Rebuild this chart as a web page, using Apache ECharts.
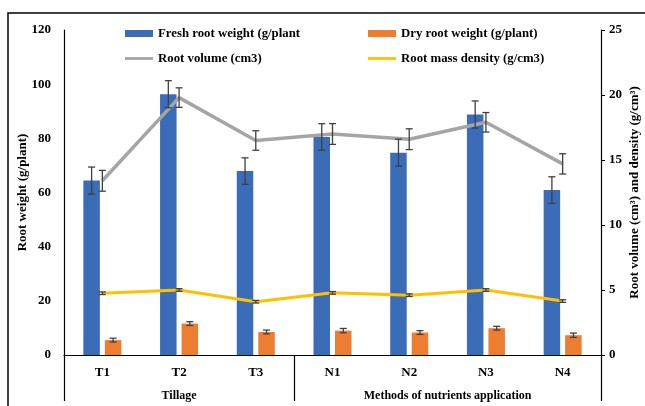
<!DOCTYPE html>
<html>
<head>
<meta charset="utf-8">
<script src="https://cdn.jsdelivr.net/npm/echarts@6/dist/echarts.min.js"></script>
<style>
html, body { margin: 0; padding: 0; background: #fff; }
#chart { width: 645px; height: 406px; }
</style>
</head>
<body>
<div id="chart"></div>
<script>
const categories = ['T1', 'T2', 'T3', 'N1', 'N2', 'N3', 'N4']
const groups = ['Tillage', 'Methods of nutrients application']
const groupBounds = [0, 3, 7]
const groupCenters = [1.5, 5]

const fresh = [64.4, 96.3, 67.9, 80.5, 74.7, 88.8, 60.9]
const freshErr = [5, 5, 4.9, 4.9, 5, 5, 4.9]
const dry = [5.5, 11.6, 8.5, 9.0, 8.3, 9.9, 7.3]
const dryErr = [0.7, 0.7, 0.7, 0.8, 0.7, 0.7, 0.8]
const volume = [13.4, 19.8, 16.5, 17.0, 16.6, 17.9, 14.7]
const volumeErr = [0.8, 0.75, 0.75, 0.8, 0.8, 0.75, 0.78]
const density = [4.75, 5.0, 4.1, 4.78, 4.6, 5.0, 4.15]
const densityErr = [0.1, 0.1, 0.1, 0.1, 0.1, 0.1, 0.1]

const font = 'Liberation Serif'
const barW = 16.5
const barGap = 5
const lineIcon = 'path://M0,0 H30 V3 H0 Z'

// build [index, value, err] rows for the error bar series
function errRows (vals, errs) {
  return vals.map((v, i) => [i, v, errs[i]])
}

function errorBars (offset) {
  return function (params, api) {
    let i = api.value(0)
    let v = api.value(1)
    let e = api.value(2)
    let hi = api.coord([i, v + e])
    let lo = api.coord([i, v - e])
    let x = hi[0] + offset
    let cap = 3.5
    let style = { stroke: '#404040', lineWidth: 1.3 }
    return {
      type: 'group',
      children: [
        { type: 'line', shape: { x1: x, y1: hi[1], x2: x, y2: lo[1] }, style: style },
        { type: 'line', shape: { x1: x - cap, y1: hi[1], x2: x + cap, y2: hi[1] }, style: style },
        { type: 'line', shape: { x1: x - cap, y1: lo[1], x2: x + cap, y2: lo[1] }, style: style }
      ]
    }
  }
}

let legendText = { fontFamily: font, fontWeight: 'bold', fontSize: 12.8, color: '#000' }

let myChart = echarts.init(document.getElementById('chart'))
myChart.setOption({
  animation: false,
  textStyle: { fontFamily: font, fontWeight: 'bold', color: '#000' },
  graphic: [{
    type: 'rect',
    shape: { x: 8, y: 13, width: 660, height: 420 },
    style: { fill: 'none', stroke: '#000', lineWidth: 1.5 },
    silent: true
  }],
  grid: { left: 64, right: 44, top: 30, bottom: 51, outerBoundsMode: 'none' },
  legend: [{
    orient: 'vertical',
    left: 125,
    top: 27,
    padding: 0,
    itemWidth: 28,
    itemHeight: 7,
    itemGap: 12,
    textStyle: legendText,
    data: [
      { name: 'Fresh root weight (g/plant', icon: 'rect' },
      { name: 'Root volume (cm3)', icon: lineIcon }
    ]
  }, {
    orient: 'vertical',
    left: 368,
    top: 27,
    padding: 0,
    itemWidth: 28,
    itemHeight: 7,
    itemGap: 12,
    textStyle: legendText,
    data: [
      { name: 'Dry root weight (g/plant)', icon: 'rect' },
      { name: 'Root mass density (g/cm3)', icon: lineIcon }
    ]
  }],
  xAxis: [{
    type: 'category',
    data: categories,
    axisLine: { lineStyle: { color: '#000', width: 1.2 } },
    axisTick: { show: false },
    axisLabel: { margin: 11, fontFamily: font, fontWeight: 'bold', fontSize: 13, color: '#000' }
  }, {
    type: 'value',
    position: 'bottom',
    min: 0,
    max: 7,
    axisLine: { show: false },
    splitLine: { show: false },
    axisTick: {
      show: true,
      customValues: groupBounds,
      length: 46,
      lineStyle: { color: '#000', width: 1.2 }
    },
    axisLabel: {
      customValues: groupCenters,
      margin: 35,
      fontFamily: font,
      fontWeight: 'bold',
      fontSize: 12,
      color: '#000',
      formatter: v => groups[groupCenters.indexOf(v)]
    }
  }],
  yAxis: [{
    type: 'value',
    min: 0,
    max: 120,
    interval: 20,
    name: 'Root weight (g/plant)',
    nameLocation: 'middle',
    nameRotate: 90,
    nameGap: 35,
    nameMoveOverlap: false,
    nameTextStyle: { fontFamily: font, fontWeight: 'bold', fontSize: 13, color: '#000' },
    axisLine: { show: true, lineStyle: { color: '#000', width: 1.2 } },
    axisTick: { show: false },
    splitLine: { show: false },
    axisLabel: { margin: 13, fontFamily: font, fontWeight: 'bold', fontSize: 13, color: '#000' }
  }, {
    type: 'value',
    min: 0,
    max: 25,
    interval: 5,
    name: 'Root volume (cm³) and density (g/cm³)',
    nameLocation: 'middle',
    nameRotate: 90,
    nameGap: 27,
    nameMoveOverlap: false,
    nameTextStyle: { fontFamily: font, fontWeight: 'bold', fontSize: 13, color: '#000' },
    axisLine: { show: true, lineStyle: { color: '#000', width: 1.2 } },
    axisTick: { show: true, length: 4, lineStyle: { color: '#000' } },
    splitLine: { show: false },
    axisLabel: { margin: 8, fontFamily: font, fontWeight: 'bold', fontSize: 13, color: '#000' }
  }],
  series: [{
    name: 'Fresh root weight (g/plant',
    type: 'bar',
    barWidth: barW,
    barGap: (barGap / barW * 100) + '%',
    itemStyle: { color: '#3A6CB7' },
    data: fresh
  }, {
    name: 'Dry root weight (g/plant)',
    type: 'bar',
    barWidth: barW,
    itemStyle: { color: '#ED7D31' },
    data: dry
  }, {
    name: 'Root volume (cm3)',
    type: 'line',
    yAxisIndex: 1,
    symbol: 'none',
    lineStyle: { color: '#A5A5A5', width: 3.5 },
    itemStyle: { color: '#A5A5A5' },
    z: 3,
    data: volume
  }, {
    name: 'Root mass density (g/cm3)',
    type: 'line',
    yAxisIndex: 1,
    symbol: 'none',
    lineStyle: { color: '#FFC000', width: 3 },
    itemStyle: { color: '#FFC000' },
    z: 3,
    data: density
  }, {
    type: 'custom',
    renderItem: errorBars(-(barW + barGap) / 2),
    data: errRows(fresh, freshErr),
    z: 5
  }, {
    type: 'custom',
    renderItem: errorBars((barW + barGap) / 2),
    data: errRows(dry, dryErr),
    z: 5
  }, {
    type: 'custom',
    yAxisIndex: 1,
    renderItem: errorBars(0),
    data: errRows(volume, volumeErr),
    z: 5
  }, {
    type: 'custom',
    yAxisIndex: 1,
    renderItem: errorBars(0),
    data: errRows(density, densityErr),
    z: 5
  }]
})
</script>
</body>
</html>
